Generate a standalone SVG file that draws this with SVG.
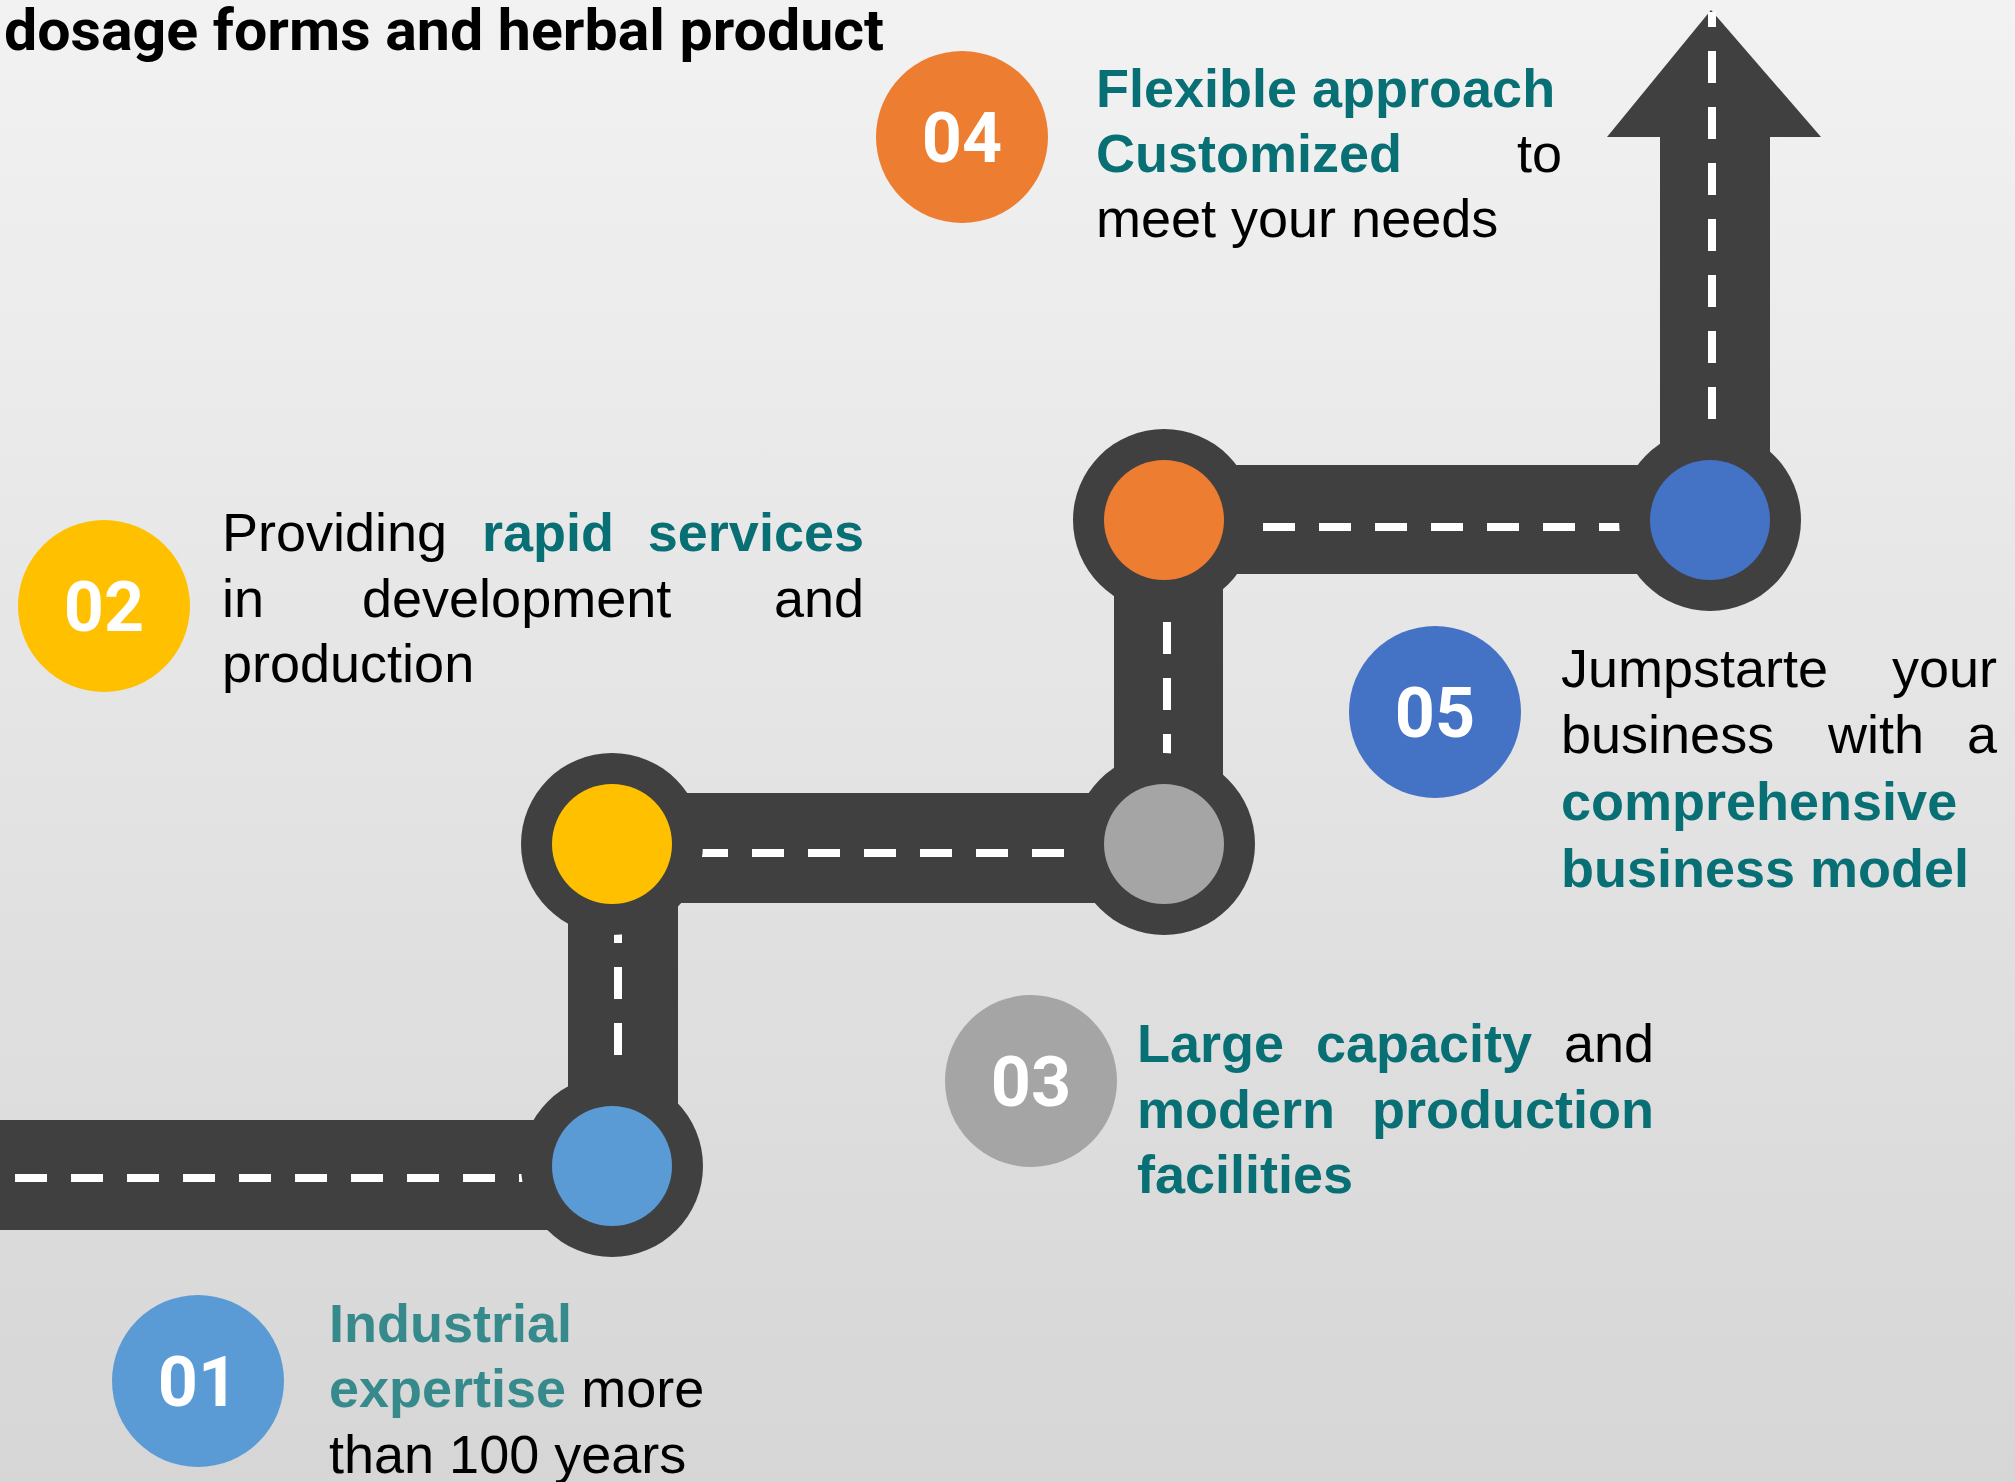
<svg xmlns="http://www.w3.org/2000/svg" width="2015" height="1482" viewBox="0 0 2015 1482">
<defs>
<linearGradient id="bg" x1="0" y1="0" x2="0" y2="1">
<stop offset="0" stop-color="#F2F2F2"/>
<stop offset="1" stop-color="#D6D6D6"/>
</linearGradient>
</defs>
<style>
.road{fill:#404040}
.dash{stroke:#FFFFFF;stroke-width:8;stroke-dasharray:32 24;fill:none}
.ring{fill:#404040}
.num{font-family:Roboto,"Open Sans",sans-serif;font-weight:bold;font-size:70px;fill:#FFFFFF;text-anchor:middle}
.t{font-family:"Liberation Sans",Arial,sans-serif;font-size:54px;fill:#000000}
.b{font-family:"Liberation Sans",Arial,sans-serif;font-size:54px;font-weight:bold;fill:#087074}
.b2{font-family:"Liberation Sans",Arial,sans-serif;font-size:54px;font-weight:bold;fill:#368A8C}
.e{text-anchor:end}
.title{font-family:Roboto,"DejaVu Sans",sans-serif;font-weight:bold;font-size:58px;fill:#000000}
</style>
<rect x="0" y="0" width="2015" height="1482" fill="url(#bg)"/>
<text class="title" x="4" y="50" textLength="880" lengthAdjust="spacingAndGlyphs">dosage forms and herbal product</text>

<g id="connectors">
<rect class="road" x="0" y="1120" width="612" height="110"/>
<rect class="road" x="568" y="844" width="110" height="322"/>
<rect class="road" x="612" y="793" width="552" height="110"/>
<rect class="road" x="1114" y="520" width="109" height="324"/>
<rect class="road" x="1164" y="465" width="546" height="109"/>
<rect class="road" x="1660" y="137" width="110" height="383"/>
<polygon class="road" points="1607,137 1821,137 1711,10"/>
<line class="dash" x1="15" y1="1178" x2="530" y2="1178"/>
<line class="dash" x1="618" y1="911" x2="618" y2="1080"/>
<line class="dash" x1="696" y1="853" x2="1100" y2="853"/>
<line class="dash" x1="1167" y1="622" x2="1167" y2="770"/>
<line class="dash" x1="1263" y1="527" x2="1630" y2="527"/>
<line class="dash" x1="1712" y1="419" x2="1712" y2="12"/>
</g>

<g id="node-n1"><circle class="ring" cx="612" cy="1166" r="91"/><circle cx="612" cy="1166" r="60" fill="#5B9BD5"/></g>
<g id="node-n2"><circle class="ring" cx="612" cy="844" r="91"/><circle cx="612" cy="844" r="60" fill="#FFC000"/></g>
<g id="node-n3"><circle class="ring" cx="1164" cy="844" r="91"/><circle cx="1164" cy="844" r="60" fill="#A5A5A5"/></g>
<g id="node-n4"><circle class="ring" cx="1164" cy="520" r="91"/><circle cx="1164" cy="520" r="60" fill="#ED7D31"/></g>
<g id="node-n5"><circle class="ring" cx="1710" cy="520" r="91"/><circle cx="1710" cy="520" r="60" fill="#4472C4"/></g>

<g id="step-01">
<circle cx="198" cy="1381" r="86" fill="#5B9BD5"/>
<text class="num" x="198" y="1406">01</text>
<text class="b2" x="329" y="1342">Industrial</text>
<text x="329" y="1407"><tspan class="b2">expertise</tspan><tspan class="t"> more</tspan></text>
<text class="t" x="329" y="1473">than 100 years</text>
</g>

<g id="step-02">
<circle cx="104" cy="606" r="86" fill="#FFC000"/>
<text class="num" x="104" y="631">02</text>
<text class="t" x="222" y="551">Providing</text>
<text class="b" x="482" y="551">rapid</text>
<text class="b e" x="864" y="551">services</text>
<text class="t" x="222" y="617">in</text>
<text class="t" x="362" y="617">development</text>
<text class="t e" x="864" y="617">and</text>
<text class="t" x="222" y="682">production</text>
</g>

<g id="step-03">
<circle cx="1031" cy="1081" r="86" fill="#A5A5A5"/>
<text class="num" x="1031" y="1106">03</text>
<text class="b" x="1137" y="1062">Large</text>
<text class="b" x="1316" y="1062">capacity</text>
<text class="t e" x="1654" y="1062">and</text>
<text class="b" x="1137" y="1128">modern</text>
<text class="b e" x="1654" y="1128">production</text>
<text class="b" x="1137" y="1193">facilities</text>
</g>

<g id="step-04">
<circle cx="962" cy="137" r="86" fill="#ED7D31"/>
<text class="num" x="962" y="162">04</text>
<text class="b" x="1096" y="107">Flexible approach</text>
<text class="b" x="1096" y="172">Customized</text>
<text class="t e" x="1562" y="172">to</text>
<text class="t" x="1096" y="237">meet your needs</text>
</g>

<g id="step-05">
<circle cx="1435" cy="712" r="86" fill="#4472C4"/>
<text class="num" x="1435" y="737">05</text>
<text class="t" x="1561" y="687">Jumpstarte</text>
<text class="t e" x="1997" y="687">your</text>
<text class="t" x="1561" y="753">business</text>
<text class="t" x="1828" y="753">with</text>
<text class="t e" x="1997" y="753">a</text>
<text class="b" x="1561" y="820">comprehensive</text>
<text class="b" x="1561" y="887">business model</text>
</g>
</svg>
